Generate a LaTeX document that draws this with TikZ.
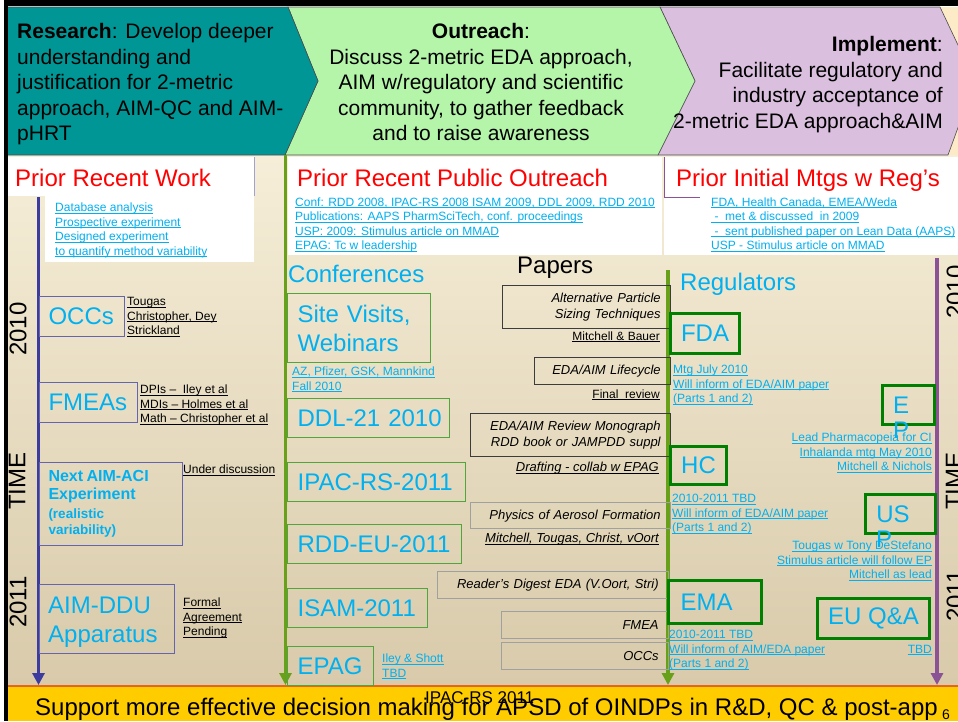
\documentclass[tikz,border=0pt]{standalone}
\usepackage{fontspec}
\setmainfont{Liberation Sans}
\usetikzlibrary{arrows.meta}
\definecolor{lb}{RGB}{0,176,240}
\definecolor{tealc}{RGB}{0,150,150}
\definecolor{lgreen}{RGB}{180,245,170}
\definecolor{lpurp}{RGB}{218,191,222}
\definecolor{peach}{RGB}{253,235,200}
\definecolor{beigeT}{RGB}{246,238,216}
\definecolor{beigeB}{RGB}{216,202,170}
\definecolor{tlblue}{RGB}{60,60,160}
\definecolor{lboxc}{RGB}{100,100,175}
\definecolor{tlgreen}{RGB}{105,160,25}
\definecolor{cboxc}{RGB}{80,165,60}
\definecolor{dgreen}{RGB}{0,128,0}
\definecolor{tlpurp}{RGB}{140,82,150}
\definecolor{orline}{RGB}{230,100,30}
\definecolor{yband}{RGB}{255,204,0}
\definecolor{pdark}{RGB}{60,60,60}
\definecolor{pgray}{RGB}{160,160,160}
\newcommand\ulx[1]{\leavevmode\setbox0\hbox{#1}\rlap{\rule[-1.8pt]{\wd0}{0.75pt}}\box0}
\newcommand\fbig{\fontsize{24}{29}\selectfont}
\begin{document}
\begin{tikzpicture}[x=1pt,y=-1pt,
 hdr/.style={font=\fontsize{21}{25.5}\selectfont, inner sep=0pt},
 ttl/.style={font=\fontsize{24}{29}\selectfont, text=red, inner sep=0pt, anchor=base west},
 lnk/.style={font=\fontsize{12}{14.5}\selectfont, text=lb, inner sep=0pt, align=left, anchor=north west},
 lnkr/.style={font=\fontsize{12}{14.5}\selectfont, text=lb, inner sep=0pt, align=right, anchor=north east},
 blk/.style={font=\fontsize{12}{14.5}\selectfont, text=black, inner sep=0pt, align=left, anchor=north west},
 blki/.style={font=\fontsize{13}{16}\selectfont\itshape, text=black, inner sep=0pt, anchor=base east},
 bigt/.style={font=\fbig, text=lb, inner sep=0pt, anchor=base west},
 lbox/.style={draw=lboxc, line width=1pt, anchor=north west, inner xsep=9pt, inner ysep=0pt, align=left, text=lb},
 cbox/.style={draw=cboxc, line width=1.2pt, anchor=north west, inner xsep=10pt, inner ysep=0pt, align=left, text=lb, font=\fbig},
 pbox/.style={line width=1.3pt, anchor=north west, inner xsep=10pt, inner ysep=0pt, align=right, font=\fontsize{13}{16.5}\selectfont\itshape},
 rbox/.style={draw=dgreen, line width=3pt, anchor=north west, inner sep=0pt, text=lb, font=\fbig},
 yr/.style={rotate=90, font=\fbig, inner sep=0pt},
 tline/.style={line width=3.2pt, -{Triangle[length=12pt,width=12pt]}}
]
\useasboundingbox (0,0) rectangle (958,721);
\fill[white] (0,0) rectangle (958,721);
% background
\shade[top color=beigeT, bottom color=beigeB] (7,155) rectangle (958,686);
% header chevrons
\fill[peach] (900,7) rectangle (958,155);
\filldraw[fill=lpurp, draw=black!70, line width=0.6pt] (660,7) -- (940,7) -- (975,81) -- (948,155) -- (658,155) -- (695,81) -- cycle;
\filldraw[fill=lgreen, draw=black!70, line width=0.6pt] (288,7) -- (660,7) -- (695,81) -- (658,155) -- (285,155) -- (318,81) -- cycle;
\filldraw[fill=tealc, draw=black!70, line width=0.6pt] (7,7) -- (288,7) -- (318,81) -- (285,155) -- (7,155) -- cycle;
% black frame
\fill[black] (4,0) rectangle (958,6);
\fill[black] (4,0) rectangle (7.5,721);
% white panels
\fill[white] (7.5,157) rectangle (254,196);
\fill[white] (45,196) rectangle (254,262);
\draw[lboxc!60, line width=1pt] (254,157) -- (254,196);
\fill[white] (287.5,157) rectangle (662,255);
\fill[white] (664,157) rectangle (958,255);
\draw[tlpurp, line width=1pt] (664,157) -- (664,197) -- (700,197);
% bottom band
\fill[yband] (7.5,686) rectangle (958,721);
\draw[orline, line width=1.5pt] (7.5,686) -- (958,686);
% timelines
\coordinate (t1s) at (38.5,197); \coordinate (t1e) at (38.5,685);
\coordinate (t2s) at (285.5,155); \coordinate (t2e) at (285.5,685);
\coordinate (t3s) at (668,270); \coordinate (t3e) at (668,685);
\coordinate (t4s) at (937,258); \coordinate (t4e) at (937,685);
\draw[tline, tlblue] (t1s) -- (t1e);
\draw[tline, tlgreen] (t2s) -- (t2e);
\draw[tline, tlgreen] (t3s) -- (t3e);
\draw[tline, tlpurp] (t4s) -- (t4e);
% header texts
\node[hdr, anchor=north west, align=left] (hres) at (17,20.6) {\strut\textbf{Research}: Develop deeper\\understanding and\\justification for 2-metric\\approach, AIM-QC and AIM-\\pHRT};
\node[hdr, anchor=north, align=center] (hout) at (481,20.6) {\strut\textbf{Outreach}:\\Discuss 2-metric EDA approach,\\AIM w/regulatory and scientific\\community, to gather feedback\\and to raise awareness};
\node[hdr, anchor=north east, align=right] (himp) at (943,33.7) {\strut\textbf{Implement}:\\Facilitate regulatory and\\industry acceptance of\\2-metric EDA approach\&AIM};
% titles
\node[ttl] (tprw) at (15,186.6) {Prior Recent Work};
\node[ttl] (tpro) at (297,186.6) {Prior Recent Public Outreach};
\node[ttl] (tpim) at (676,186.6) {Prior Initial Mtgs w Reg’s};
% prior links
\node[lnk] (lprw) at (55,201.2) {\strut\ulx{Database analysis}\\\ulx{Prospective experiment}\\\ulx{Designed experiment}\\\ulx{to quantify method variability}};
\node[lnk] (lpro) at (295,195.9) {\strut\ulx{Conf: RDD 2008, IPAC-RS 2008 ISAM 2009, DDL 2009, RDD 2010}\\\ulx{Publications: AAPS PharmSciTech, conf. proceedings}\\\ulx{USP: 2009: Stimulus article on MMAD}\\\ulx{EPAG: Tc w leadership}};
\node[lnk] (lpim) at (711,195.9) {\strut\ulx{FDA, Health Canada, EMEA/Weda}\\\ulx{\ -\ \ met \& discussed\ \ in 2009}\\\ulx{\ -\ \ sent published paper on Lean Data (AAPS)}\\\ulx{USP - Stimulus article on MMAD}};
% column headings
\node[bigt] (hconf) at (288,282.6) {Conferences};
\node[bigt, text=black] (hpap) at (517,273.6) {Papers};
\node[bigt] (hreg) at (680,290.6) {Regulators};
% year labels
\node[yr] (y10l) at (18,329) {2010};
\node[yr] (ytl) at (17,481) {TIME};
\node[yr] (y11l) at (18,602) {2011};
\node[yr] (y10r) at (955,292) {2010};
\node[yr] (ytr) at (954,481) {TIME};
\node[yr] (y11r) at (955,596) {2011};
% left column
\node[lbox, minimum width=85pt, minimum height=40pt, text width=67pt, font=\fbig] (occ) at (39,296) {\mbox{OCCs}};
\node[blk] (occn) at (127,295.2) {\strut\ulx{Tougas}\\\ulx{Christopher, Dey}\\\ulx{Strickland}};
\node[lbox, minimum width=98pt, minimum height=40pt, text width=80pt, font=\fbig] (fmea) at (39,382) {\mbox{FMEAs}};
\node[blk] (fmean) at (140,383.2) {\strut\ulx{DPIs –\ \ Iley et al}\\\ulx{MDIs – Holmes et al}\\\ulx{Math – Christopher et al}};
\node[lbox, minimum width=143pt, minimum height=83pt, text width=125pt] (nxt) at (39,462) {{\fontsize{16}{18}\selectfont\bfseries Next AIM-ACI\\Experiment\par}\vspace{3pt}{\fontsize{13.5}{16}\selectfont\bfseries (realistic\\variability)\par}};
\node[blk] (nxtn) at (183,463.2) {\strut\ulx{Under discussion}};
\node[lbox, minimum width=135pt, minimum height=69pt] (ddu) at (39,584) {};
\node[bigt, anchor=north west, align=left] (ddut) at (48,593.3) {\strut AIM-DDU\\Apparatus};
\node[blk] (ddun) at (183,596.2) {\strut\ulx{Formal}\\\ulx{Agreement}\\\ulx{Pending}};
% conferences
\node[cbox, minimum width=143pt, minimum height=69pt, text width=123pt] (site) at (287,293) {Site Visits,\\Webinars};
\node[lnk] (siten) at (292,365.2) {\strut\ulx{AZ, Pfizer, GSK, Mannkind}\\\ulx{Fall 2010}};
\node[cbox, minimum width=162pt, minimum height=39pt, text width=142pt] (ddl) at (287,398) {\mbox{DDL-21 2010}};
\node[cbox, minimum width=178pt, minimum height=39pt, text width=158pt] (ipac) at (287,462) {\mbox{IPAC-RS-2011}};
\node[cbox, minimum width=174pt, minimum height=39pt, text width=154pt] (rdd) at (287,524) {\mbox{RDD-EU-2011}};
\node[cbox, minimum width=140pt, minimum height=39pt, text width=120pt] (isam) at (287,588) {\mbox{ISAM-2011}};
\node[cbox, minimum width=86pt, minimum height=39pt, text width=66pt] (epag) at (287,646) {\mbox{EPAG}};
\node[lnk] (epagn) at (382,652.2) {\strut\ulx{Iley \& Shott}\\\ulx{TBD}};
% papers
\node[pbox, draw=pdark, minimum width=168pt, minimum height=43pt, text width=148pt] (alt) at (502,285) {Alternative Particle\\Sizing Techniques};
\node[blk, anchor=base east] (altn) at (660,340.3) {\ulx{Mitchell \& Bauer}};
\node[pbox, draw=pdark, minimum width=136pt, minimum height=27pt, text width=116pt] (life) at (534,357) {\mbox{EDA/AIM Lifecycle}};
\node[blk, anchor=base east] (lifen) at (660,398.3) {\ulx{Final\ \ review}};
\node[pbox, draw=pdark, minimum width=200pt, minimum height=43pt, text width=180pt] (mono) at (470,413) {EDA/AIM Review Monograph\\RDD book or JAMPDD suppl};
\node[blki] (monon) at (659,471.7) {\ulx{Drafting - collab w EPAG}};
\node[pbox, draw=pgray, minimum width=200pt, minimum height=26pt, text width=180pt] (phys) at (470,502) {\mbox{Physics of Aerosol Formation}};
\node[blki] (physn) at (659,542.7) {\ulx{Mitchell, Tougas, Christ, vOort}};
\node[pbox, draw=pgray, minimum width=231pt, minimum height=27pt, text width=211pt] (read) at (437,571) {\mbox{Reader’s Digest EDA (V.Oort, Stri)}};
\node[pbox, draw=pgray, minimum width=167pt, minimum height=27pt, text width=147pt] (pfmea) at (501,611) {FMEA};
\node[pbox, draw=pgray, minimum width=167pt, minimum height=27pt, text width=147pt] (pocc) at (501,642) {OCCs};
% regulators
\node[rbox, minimum width=69pt, minimum height=40pt] (fda) at (669,312) {FDA};
\node[lnk] (fdan) at (673,363.2) {\strut\ulx{Mtg July 2010}\\\ulx{Will inform of EDA/AIM paper}\\\ulx{(Parts 1 and 2)}};
\node[rbox, minimum width=56pt, minimum height=38pt] (hc) at (669,445) {HC};
\node[lnk] (hcn) at (672,492.2) {\strut\ulx{2010-2011 TBD}\\\ulx{Will inform of EDA/AIM paper}\\\ulx{(Parts 1 and 2)}};
\node[rbox, minimum width=93pt, minimum height=43pt, inner xsep=12pt, text width=69pt, align=left] (ema) at (667,579) {\mbox{EMA}};
\node[lnk] (eman) at (669,628.2) {\strut\ulx{2010-2011 TBD}\\\ulx{Will inform of AIM/EDA paper}\\\ulx{(Parts 1 and 2)}};
\node[rbox, minimum width=52pt, minimum height=39pt] (epb) at (881,384) {};
\node[lnkr] (epn) at (932,431.2) {\strut\ulx{Lead Pharmacopeia for CI}\\\ulx{Inhalanda mtg May 2010}\\\ulx{Mitchell \& Nichols}};
\node[rbox, minimum width=70pt, minimum height=39pt] (usb) at (864,493) {};
\node[lnkr] (usn) at (932,539.2) {\strut\ulx{Tougas w Tony DeStefano}\\\ulx{Stimulus article will follow EP}\\\ulx{Mitchell as lead}};
\node[rbox, minimum width=112pt, minimum height=40pt] (euqa) at (816,597) {EU Q\&A};
\node[lnk, anchor=base east] (euqan) at (932,653.3) {\ulx{TBD}};
\node[font=\fbig, text=lb, inner sep=0pt] (ept1) at (901,405) {E};
\node[font=\fbig, text=lb, inner sep=0pt] (ept2) at (901,430) {P};
\node[font=\fbig, text=lb, inner sep=0pt] (ust1) at (893,514) {US};
\node[font=\fbig, text=lb, inner sep=0pt] (ust2) at (884,539) {P};
% bottom texts
\node[anchor=base west, font=\fontsize{24}{29}\selectfont, inner sep=0pt] (sup) at (35,715) {Support more effective decision making for APSD of OINDPs in R\&D, QC \& post-app};
\node[anchor=base west, font=\fontsize{17}{20}\selectfont, inner sep=0pt] (ipacf) at (425,703) {IPAC-RS 2011};
\node[anchor=base west, font=\fontsize{14}{16}\selectfont, inner sep=0pt] (pg) at (942,719.5) {6};
\end{tikzpicture}
\end{document}
